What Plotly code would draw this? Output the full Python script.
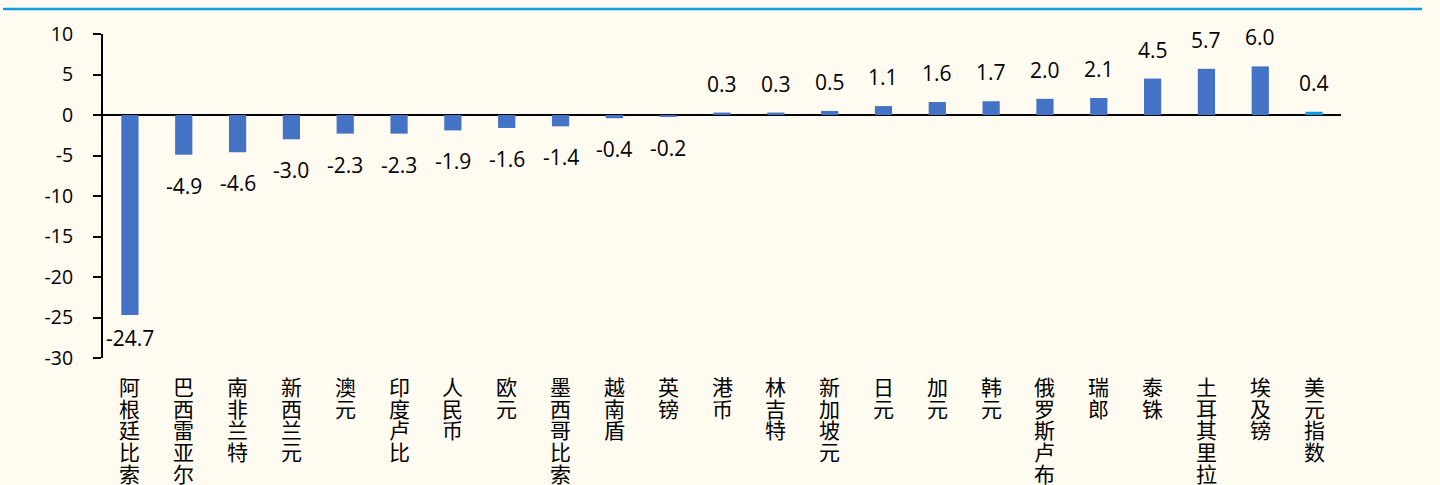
import plotly.graph_objects as go

# Currency moves (%), in display order
currencies = ["阿根廷比索", "巴西雷亚尔", "南非兰特", "新西兰元", "澳元", "印度卢比", "人民币",
              "欧元", "墨西哥比索", "越南盾", "英镑", "港币", "林吉特", "新加坡元", "日元",
              "加元", "韩元", "俄罗斯卢布", "瑞郎", "泰铢", "土耳其里拉", "埃及镑", "美元指数"]
changes = [-24.7, -4.9, -4.6, -3.0, -2.3, -2.3, -1.9, -1.6, -1.4, -0.4, -0.2, 0.3, 0.3,
           0.5, 1.1, 1.6, 1.7, 2.0, 2.1, 4.5, 5.7, 6.0, 0.4]
y_ticks = [10, 5, 0, -5, -10, -15, -20, -25, -30]

BAR_BLUE = "#4472C4"
INDEX_BLUE = "#0A9FE0"
BG = "#FFFBF0"
NUM_FONT = "Open Sans, Noto Sans CJK SC"
CJK_FONT = "Noto Sans CJK SC"

W, H = 1440, 485
L, R, T, B = 103, 99, 34, 127
plot_h = H - T - B
y_min, y_max = -30, 10
px_per_unit = plot_h / (y_max - y_min)

colors = [INDEX_BLUE if c == "美元指数" else BAR_BLUE for c in currencies]

fig = go.Figure(go.Bar(
    x=currencies, y=changes, marker=dict(color=colors, line=dict(width=0)),
    width=0.32, hoverinfo="x+y",
))

annotations = []
# value labels beyond each bar end
for c, v in zip(currencies, changes):
    if v >= 0:
        shift = 29
    else:
        end_px = (-v) * px_per_unit
        room = (-y_min) * px_per_unit - 20
        shift = -min(31, room - end_px)
    annotations.append(dict(
        x=c, y=v, yshift=shift, text=f"{v:.1f}", showarrow=False,
        xanchor="center", yanchor="middle",
        font=dict(family=NUM_FONT, size=21, color="#000000"),
    ))

# vertical category names, one character per line
for c in currencies:
    for j, ch in enumerate(c):
        annotations.append(dict(
            x=c, y=0, yref="paper", yshift=-(11 + 21.7 * j), text=ch,
            showarrow=False, xanchor="center", yanchor="top",
            font=dict(family=CJK_FONT, size=21, color="#000000"),
        ))

fig.update_layout(
    width=W, height=H,
    margin=dict(l=L, r=R, t=T, b=B, pad=0),
    paper_bgcolor=BG, plot_bgcolor=BG,
    showlegend=False,
    annotations=annotations,
    shapes=[dict(
        type="line", xref="paper", yref="paper",
        x0=(3 - L) / (W - L - R), x1=(1422 - L) / (W - L - R),
        y0=(plot_h + T - 9) / plot_h, y1=(plot_h + T - 9) / plot_h,
        line=dict(color=INDEX_BLUE, width=2.5),
    )],
    xaxis=dict(
        type="category", range=[-0.5, len(currencies) - 0.5],
        showline=False, showgrid=False, zeroline=False,
        showticklabels=False, ticks="",
    ),
    yaxis=dict(
        range=[y_min, y_max], tickvals=y_ticks, ticktext=[str(t) for t in y_ticks],
        showline=True, linecolor="#000000", linewidth=2,
        ticks="outside", ticklen=8, tickwidth=2, tickcolor="#000000",
        ticklabelstandoff=16,
        showgrid=False, zeroline=True, zerolinecolor="#000000", zerolinewidth=2,
        tickfont=dict(family=NUM_FONT, size=19.5, color="#000000"),
    ),
)

fig.write_html("out.html")
